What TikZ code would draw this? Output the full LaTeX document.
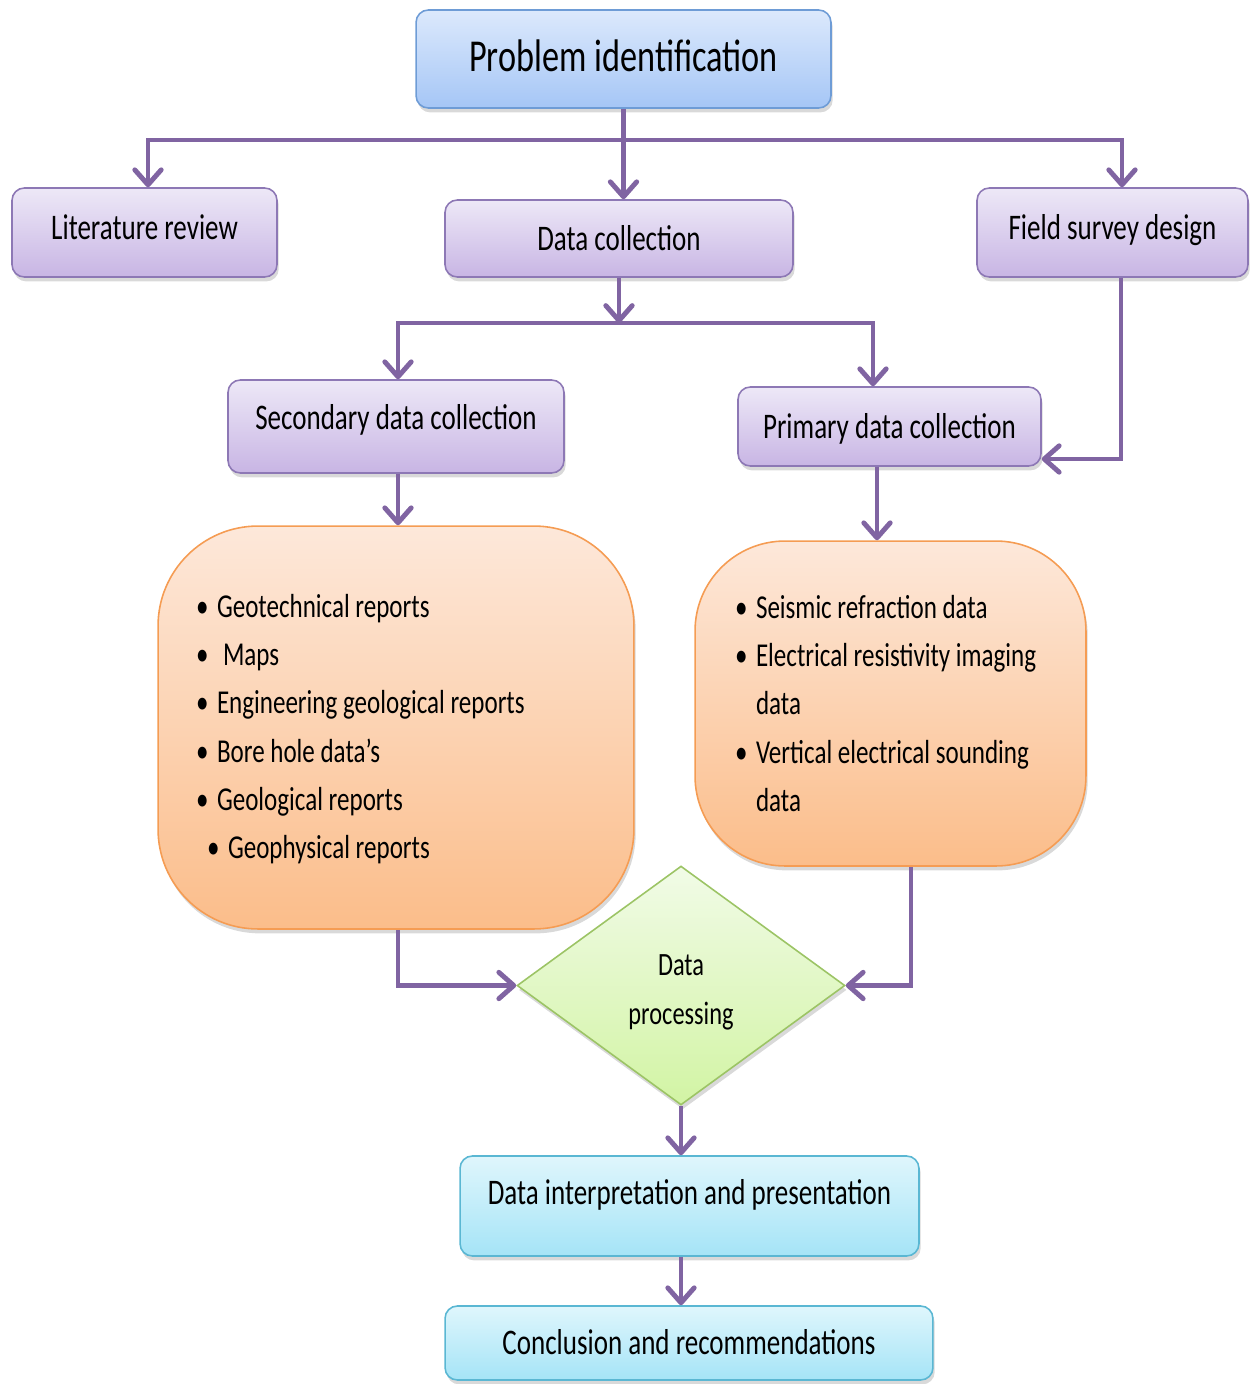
\documentclass[tikz,border=0pt]{standalone}
\usepackage{fontspec}
\setmainfont{Carlito}[FakeStretch=0.75]
\usetikzlibrary{arrows.meta,shapes.geometric,shadows}
\definecolor{arrc}{HTML}{8064A2}
\definecolor{blueT}{HTML}{DCE9FC}\definecolor{blueB}{HTML}{A5C6F6}\definecolor{blueD}{HTML}{6E9CD6}
\definecolor{purT}{HTML}{EDE8F7}\definecolor{purB}{HTML}{C8B5E4}\definecolor{purD}{HTML}{8D78B5}
\definecolor{orT}{HTML}{FDE8DA}\definecolor{orB}{HTML}{FBBD8A}\definecolor{orD}{HTML}{F59C53}
\definecolor{grT}{HTML}{F1FBE7}\definecolor{grB}{HTML}{D2F4A4}\definecolor{grD}{HTML}{9CC465}
\definecolor{cyT}{HTML}{DFF6FC}\definecolor{cyB}{HTML}{A5E4F7}\definecolor{cyD}{HTML}{5AB7D3}
\tikzset{
  shad/.style={drop shadow={shadow xshift=1pt,shadow yshift=-2.5pt,opacity=0.3}},
  basebox/.style={shad, rounded corners=7pt, line width=0.9pt, inner sep=0pt,
    font=\fontsize{20.5}{24}\selectfont, text height=13.2pt, text depth=0pt},
  bluebox/.style={basebox, draw=blueD, top color=blueT, bottom color=blueB},
  purbox/.style={basebox, draw=purD, top color=purT, bottom color=purB},
  cyanbox/.style={basebox, draw=cyD, top color=cyT, bottom color=cyB},
  orbox/.style={shad, line width=0.9pt, draw=orD, top color=orT, bottom color=orB,
    align=flush left, font=\fontsize{19}{27.4}\selectfont},
  decbox/.style={shad, diamond, line width=0.9pt, draw=grD, top color=grT, bottom color=grB,
    inner sep=0pt, align=center, font=\fontsize{18.5}{27.8}\selectfont},
  arr/.style={draw=arrc, line width=2.8pt, -{Straight Barb[length=8.5pt,width=15pt,round]}},
  ln/.style={draw=arrc, line width=2.8pt}
}
\newcommand{\bul}{\makebox[0.42cm][l]{\textbullet}}
\begin{document}
\begin{tikzpicture}[x=0.02cm,y=-0.02cm]
\useasboundingbox (0,0) rectangle (1252,1384);
% nodes
\node[bluebox, minimum width=8.3cm, minimum height=1.96cm, font=\fontsize{26}{30}\selectfont, text height=16.7pt, text depth=0.08cm] (pi) at (623.5,59) {Problem identification};
\node[purbox, minimum width=5.3cm, minimum height=1.78cm, text depth=0.18cm] (lit) at (144.5,232.5) {Literature review};
\node[purbox, minimum width=6.96cm, minimum height=1.54cm] (dc) at (619,238.5) {Data collection};
\node[purbox, minimum width=5.42cm, minimum height=1.78cm, text depth=0.18cm] (fsd) at (1112.5,232.5) {Field survey design};
\node[purbox, minimum width=6.72cm, minimum height=1.86cm, text depth=0.34cm] (sec) at (396,426.5) {Secondary data collection};
\node[purbox, minimum width=6.06cm, minimum height=1.58cm] (prim) at (889.5,426.5) {Primary data collection};
\node[orbox, rounded corners=2cm, minimum width=9.52cm, minimum height=8.06cm, inner xsep=0.76cm, text width=8.0cm] (ol) at (396,727.5)
 {\rule{0pt}{15pt}\bul Geotechnical reports\\
  \bul\hspace*{0.12cm}Maps\\
  \bul Engineering geological reports\\
  \bul Bore hole data’s\\
  \bul Geological reports\\
  \hspace*{0.22cm}\bul Geophysical reports};
\node[orbox, rounded corners=1.8cm, minimum width=7.82cm, minimum height=6.5cm, inner xsep=0.8cm, text width=6.22cm] (or) at (890.5,703.5)
 {\bul Seismic refraction data\\
  \bul Electrical resistivity imaging\\
  \hspace*{0.42cm}data\\
  \bul Vertical electrical sounding\\
  \hspace*{0.42cm}data};
\node[decbox, minimum width=6.56cm, minimum height=4.78cm] (dp) at (681,985.5) {\rule{0pt}{19.5pt}Data\\processing};
\node[cyanbox, minimum width=9.18cm, minimum height=2.0cm, text depth=0.52cm] (di) at (689.5,1206) {Data interpretation and presentation};
\node[cyanbox, minimum width=9.76cm, minimum height=1.48cm] (conc) at (689,1343) {Conclusion and recommendations};
% junctions
\coordinate (j1) at (pi.south |- 0,140);
\coordinate (j2) at (dc.south |- 0,323);
% connectors
\draw[arr] (pi.south) -- (pi.south |- dc.north);
\draw[arr] (j1) -| ([xshift=0.07cm]lit.north);
\draw[arr] (j1) -| ([xshift=0.19cm]fsd.north);
\draw[arr] (dc.south) -- (j2);
\draw[arr] (j2) -| ([xshift=0.04cm]sec.north);
\draw[arr] (j2) -| ([xshift=-0.33cm]prim.north);
\draw[arr] ([xshift=0.17cm]fsd.south) |- ([yshift=-0.65cm]prim.east);
\draw[arr] ([xshift=0.04cm]sec.south) -- ([xshift=0.04cm]sec.south |- ol.north);
\draw[arr] ([xshift=-0.25cm]prim.south) -- ([xshift=-0.25cm]prim.south |- or.north);
\draw[arr] ([xshift=0.04cm]ol.south) |- (dp.west);
\draw[arr] ([xshift=0.41cm]or.south) |- (dp.east);
\draw[arr] (dp.south) -- (dp.south |- di.north);
\draw[arr] (dp.south |- di.south) -- (dp.south |- conc.north);
\end{tikzpicture}
\end{document}
